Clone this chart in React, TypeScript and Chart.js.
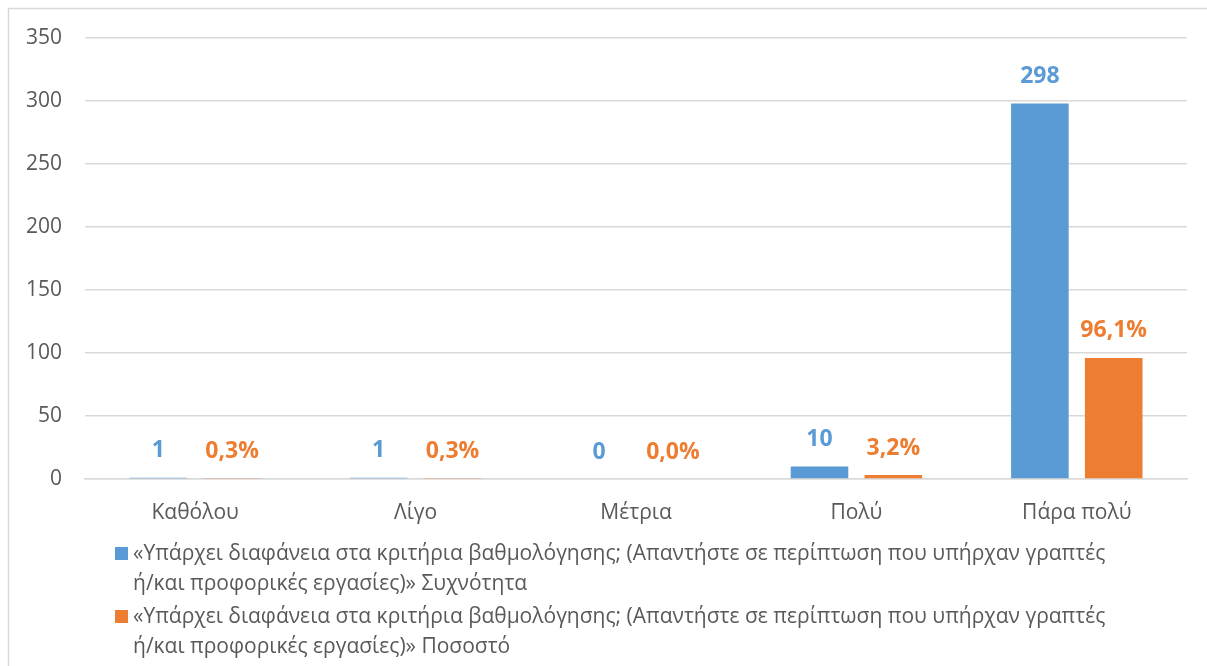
import React, { useEffect, useRef } from "react";
import { Chart, registerables } from "chart.js";

Chart.register(...registerables);

const categories = ["Καθόλου", "Λίγο", "Μέτρια", "Πολύ", "Πάρα πολύ"];
const frequency = [1, 1, 0, 10, 298];
const percent = [0.3, 0.3, 0, 3.2, 96.1];
const seriesNames = [
  "«Υπάρχει διαφάνεια στα κριτήρια βαθμολόγησης; (Απαντήστε σε περίπτωση που υπήρχαν γραπτές ή/και προφορικές εργασίες)» Συχνότητα",
  "«Υπάρχει διαφάνεια στα κριτήρια βαθμολόγησης; (Απαντήστε σε περίπτωση που υπήρχαν γραπτές ή/και προφορικές εργασίες)» Ποσοστό",
];
const legendLines = [
  ["«Υπάρχει διαφάνεια στα κριτήρια βαθμολόγησης; (Απαντήστε σε περίπτωση που υπήρχαν γραπτές", "ή/και προφορικές εργασίες)» Συχνότητα"],
  ["«Υπάρχει διαφάνεια στα κριτήρια βαθμολόγησης; (Απαντήστε σε περίπτωση που υπήρχαν γραπτές", "ή/και προφορικές εργασίες)» Ποσοστό"],
];
const yTicks = [0, 50, 100, 150, 200, 250, 300, 350];

const BLUE = "#5B9BD5";
const ORANGE = "#ED7D31";
const TEXT = "#595959";
const FONT = "'Open Sans', 'Noto Sans', sans-serif";

const borderPlugin = {
  id: "border",
  beforeDraw(chart: any) {
    const ctx = chart.ctx;
    ctx.save();
    ctx.fillStyle = "#ffffff";
    ctx.fillRect(0, 0, chart.width, chart.height);
    ctx.strokeStyle = "#D9D9D9";
    ctx.lineWidth = 1.5;
    ctx.strokeRect(8.5, 8.5, chart.width + 20, chart.height + 20);
    ctx.restore();
  },
};

const labelPlugin = {
  id: "valueLabels",
  afterDatasetsDraw(chart: any) {
    const ctx = chart.ctx;
    ctx.save();
    ctx.font = `bold 23px ${FONT}`;
    ctx.textAlign = "center";
    ctx.textBaseline = "middle";
    chart.data.datasets.forEach((ds: any, di: number) => {
      const meta = chart.getDatasetMeta(di);
      ctx.fillStyle = ds.backgroundColor;
      meta.data.forEach((bar: any, i: number) => {
        const v = ds.data[i];
        const txt = di === 0 ? String(v) : v.toFixed(1).replace(".", ",") + "%";
        ctx.fillText(txt, bar.x, bar.y - 27);
      });
    });
    ctx.restore();
  },
};

const legendPlugin = {
  id: "customLegend",
  afterDraw(chart: any) {
    const ctx = chart.ctx;
    const colors = [BLUE, ORANGE];
    const base = chart.chartArea.bottom;
    const startYs = [base + 75, base + 138];
    ctx.save();
    ctx.font = `21px ${FONT}`;
    ctx.textBaseline = "middle";
    ctx.textAlign = "left";
    legendLines.forEach((lines, si) => {
      const y0 = startYs[si];
      ctx.fillStyle = colors[si];
      ctx.fillRect(115, y0 - 7, 13, 13);
      ctx.fillStyle = TEXT;
      lines.forEach((ln, li) => {
        ctx.fillText(ln, 133, y0 + li * 30);
      });
    });
    ctx.restore();
  },
};

export default function App() {
  const ref = useRef<HTMLCanvasElement | null>(null);
  useEffect(() => {
    if (!ref.current) return;
    const chart = new Chart(ref.current, {
      type: "bar",
      data: {
        labels: categories,
        datasets: [
          { label: seriesNames[0], data: frequency, backgroundColor: BLUE, categoryPercentage: 0.67, barPercentage: 0.78 },
          { label: seriesNames[1], data: percent, backgroundColor: ORANGE, categoryPercentage: 0.67, barPercentage: 0.78 },
        ],
      },
      options: {
        animation: false,
        responsive: false,
        maintainAspectRatio: false,
        layout: { padding: { left: 0, right: 20, top: 38, bottom: 142 } },
        plugins: {
          legend: { display: false },
          tooltip: { enabled: false },
        },
        scales: {
          x: {
            afterFit(scale: any) {
              scale.height = 45;
            },
            grid: { display: false, drawTicks: false },
            border: { display: true, color: "#D9D9D9", width: 1.5 },
            ticks: { color: TEXT, font: { family: FONT, size: 21 }, padding: 21, maxRotation: 0 },
          },
          y: {
            min: 0,
            max: 350,
            afterBuildTicks(scale: any) {
              scale.ticks = yTicks.map((v) => ({ value: v }));
            },
            afterFit(scale: any) {
              scale.width = 85;
            },
            grid: { color: "#D9D9D9", lineWidth: 1.5, drawTicks: false },
            border: { display: false },
            ticks: { color: TEXT, font: { family: FONT, size: 21 }, padding: 23 },
          },
        },
      },
      plugins: [borderPlugin, labelPlugin, legendPlugin],
    });
    return () => chart.destroy();
  }, []);
  return (
    <div style={{ position: "fixed", left: 0, top: 0, width: 1207, height: 666, overflow: "hidden", background: "#fff" }}>
      <canvas ref={ref} width={1207} height={666} style={{ display: "block" }} />
    </div>
  );
}
